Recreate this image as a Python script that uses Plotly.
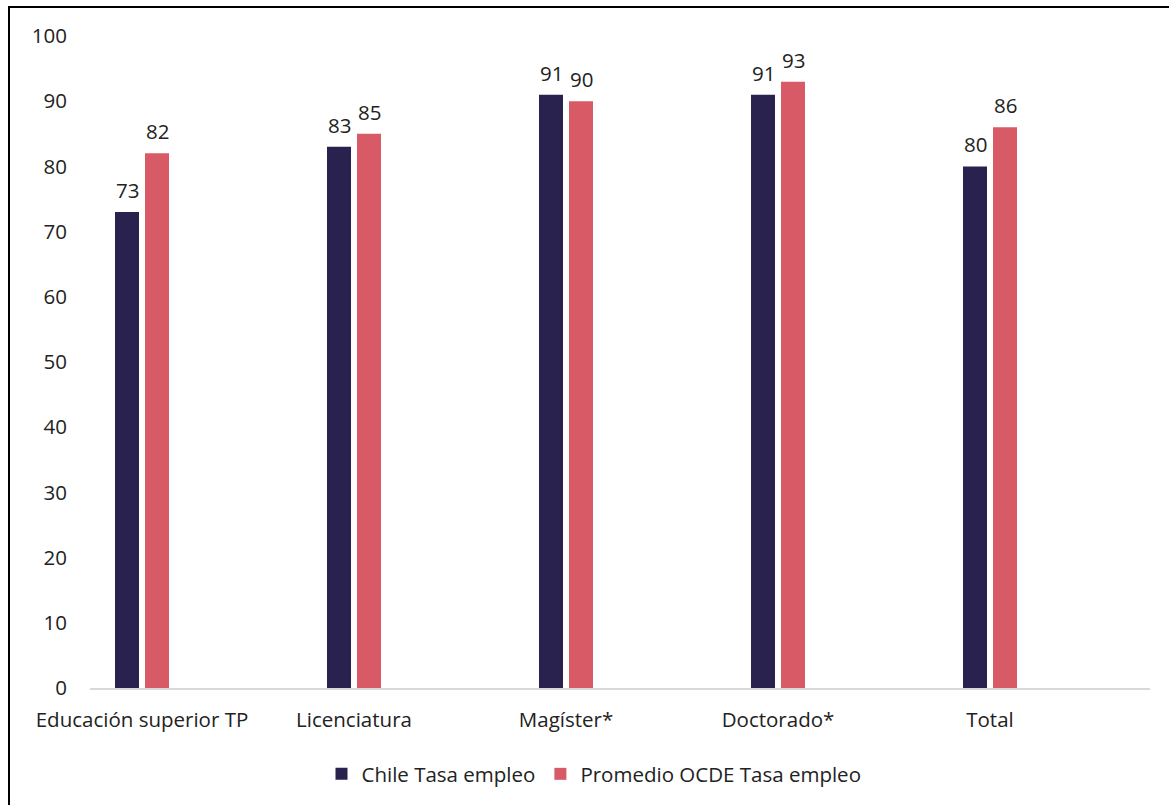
import plotly.graph_objects as go

# Tasa de empleo por nivel educativo: Chile vs promedio OCDE
categorias = ["Educación superior TP", "Licenciatura", "Magíster*", "Doctorado*", "Total"]
chile = [73, 83, 91, 91, 80]
ocde = [82, 85, 90, 93, 86]

COLOR_CHILE = "#29224f"
COLOR_OCDE = "#d75a66"
FONT = dict(family="Open Sans, Noto Sans, sans-serif", size=20.5, color="#222222")

W, H = 1169, 805
ML, MR, MT, MB = 90, 19, 36, 116
PW, PH = W - ML - MR, H - MT - MB


def px_x(p):
    return (p - ML) / PW


def px_y(p):
    return (H - MB - p) / PH


fig = go.Figure()
fig.add_trace(go.Bar(
    name="Chile Tasa empleo", x=categorias, y=chile,
    marker=dict(color=COLOR_CHILE, line=dict(width=0)),
))
fig.add_trace(go.Bar(
    name="Promedio OCDE Tasa empleo", x=categorias, y=ocde,
    marker=dict(color=COLOR_OCDE, line=dict(width=0)),
))

# value labels above each bar
annotations = []
for serie, shift in ((chile, -15), (ocde, 15)):
    for cat, val in zip(categorias, serie):
        annotations.append(dict(
            x=cat, y=val, xref="x", yref="y", text=str(val),
            showarrow=False, xshift=shift, yanchor="bottom", yshift=6,
            font=FONT,
        ))

fig.update_layout(
    width=W, height=H,
    margin=dict(l=ML, r=MR, t=MT, b=MB),
    paper_bgcolor="white", plot_bgcolor="white",
    font=FONT,
    barmode="group", bargap=0.717, bargroupgap=0.2,
    annotations=annotations,
    legend=dict(
        orientation="h", x=px_x(594), xanchor="center",
        y=px_y(774), yanchor="middle",
        font=FONT, traceorder="normal",
    ),
    xaxis=dict(
        showgrid=False, showline=True, linecolor="#d9d9d9", linewidth=2,
        ticks="", tickfont=FONT, ticklabelstandoff=12,
        range=[-52 / 212, -52 / 212 + PW / 212], fixedrange=True,
    ),
    yaxis=dict(
        range=[0, 100], dtick=10, showgrid=False, showline=False,
        zeroline=False, ticks="", tickfont=FONT, ticklabelstandoff=22,
        fixedrange=True,
    ),
    shapes=[
        dict(
            type="rect", xref="paper", yref="paper",
            x0=px_x(9), x1=px_x(1200), y0=px_y(830), y1=px_y(7),
            line=dict(color="black", width=2), fillcolor="rgba(0,0,0,0)",
            layer="below",
        )
    ],
)

fig.write_html("out.html")
